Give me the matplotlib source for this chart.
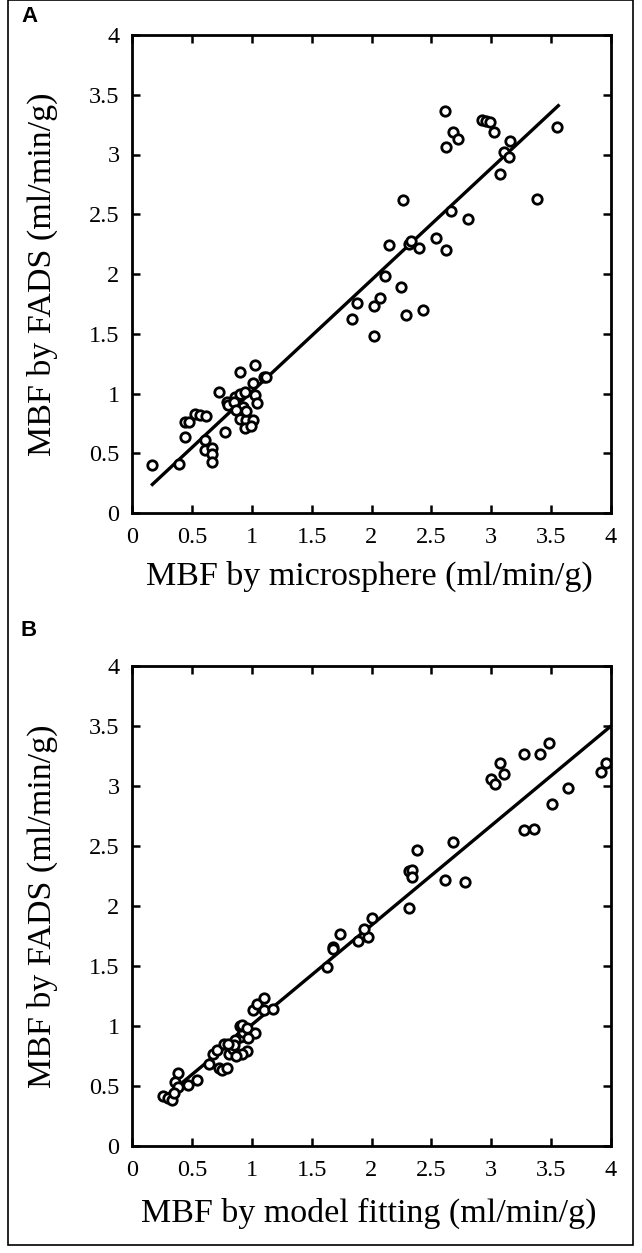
import matplotlib
matplotlib.use("Agg")
import matplotlib.pyplot as plt
import numpy as np
from matplotlib.patches import Rectangle

# ---------------- Data: panel A (microsphere vs FADS) ----------------
a_x = [0.17, 0.39, 0.44, 0.44, 0.48, 0.53, 0.57, 0.62, 0.61, 0.61, 0.67, 0.67, 0.67,
       0.78, 0.73, 0.90, 1.03, 1.01, 1.10, 1.12, 0.79, 0.80, 0.86, 0.90, 0.94, 1.03,
       1.04, 0.93, 0.90, 0.95, 1.01, 0.94, 0.99, 0.85, 0.87, 0.95,
       1.84, 1.88, 2.02, 2.07, 2.02, 2.25, 2.29, 2.43, 2.11, 2.15, 2.31, 2.33, 2.40,
       2.54, 2.62, 2.26, 2.66, 2.81, 3.38,
       2.61, 2.68, 2.72, 2.62, 2.92, 2.96, 2.99, 3.02, 3.16, 3.11, 3.15, 3.07, 3.55]
a_y = [0.40, 0.41, 0.64, 0.76, 0.76, 0.83, 0.82, 0.81, 0.61, 0.53, 0.54, 0.49, 0.43,
       0.68, 1.01, 1.18, 1.24, 1.09, 1.14, 1.14, 0.93, 0.90, 0.97, 1.00, 1.01, 0.99,
       0.92, 0.89, 0.79, 0.78, 0.78, 0.71, 0.73, 0.93, 0.86, 0.85,
       1.62, 1.76, 1.73, 1.80, 1.48, 1.89, 1.66, 1.70, 1.98, 2.24, 2.25, 2.28, 2.22,
       2.30, 2.20, 2.62, 2.53, 2.46, 2.63,
       3.36, 3.19, 3.13, 3.06, 3.29, 3.28, 3.27, 3.19, 3.11, 3.02, 2.98, 2.84, 3.23]
a_line_x = [0.17, 3.56]
a_slope, a_intercept = 0.935, 0.08

# ---------------- Data: panel B (model fitting vs FADS) ----------------
b_x = [0.26, 0.30, 0.33, 0.38, 0.36, 0.38, 0.35, 0.47, 0.54, 0.64, 0.68, 0.71, 0.73,
       0.75, 0.79, 0.77, 0.81, 0.84, 0.90, 0.93, 0.96, 0.92, 0.90, 0.92, 0.96, 1.03,
       1.01, 1.04, 1.10, 1.10, 1.18, 0.86, 0.85, 0.87, 0.97, 0.80,
       1.63, 1.68, 1.68, 1.74, 1.89, 1.97, 1.94, 2.00, 2.31,
       2.31, 2.34, 2.34, 2.38, 2.61, 2.78, 2.68,
       3.27, 3.36, 3.51, 3.64, 3.00, 3.03, 3.07, 3.11, 3.27, 3.41, 3.48, 3.92, 3.96]
b_y = [0.42, 0.40, 0.38, 0.61, 0.53, 0.49, 0.44, 0.51, 0.55, 0.68, 0.77, 0.80, 0.65,
       0.63, 0.65, 0.85, 0.77, 0.81, 0.91, 0.95, 0.79, 0.77, 1.00, 1.01, 0.98, 0.94,
       1.13, 1.18, 1.23, 1.13, 1.14, 0.88, 0.84, 0.75, 0.90, 0.85,
       1.49, 1.66, 1.64, 1.77, 1.71, 1.74, 1.81, 1.90, 1.98,
       2.29, 2.30, 2.24, 2.47, 2.22, 2.20, 2.53,
       2.63, 2.64, 2.85, 2.98, 3.06, 3.02, 3.19, 3.10, 3.27, 3.27, 3.36, 3.12, 3.19]
b_line_x = [0.28, 3.99]
b_slope, b_intercept = 0.83, 0.18

ticks = [0, 0.5, 1, 1.5, 2, 2.5, 3, 3.5, 4]
tick_labels = ["0", "0.5", "1", "1.5", "2", "2.5", "3", "3.5", "4"]
ylabel = "MBF by FADS (ml/min/g)"
xlabel_a = "MBF by microsphere (ml/min/g)"
xlabel_b = "MBF by model fitting (ml/min/g)"

W, H = 642, 1253
fig = plt.figure(figsize=(W / 100, H / 100), dpi=100)
serif = ["Liberation Serif", "DejaVu Serif"]
TICK_FS = 17.5
LABEL_FS = 24.5


def fx(px):
    return px / W


def fy(py):
    return 1 - py / H


def make_axes(top_px, bottom_px):
    ax = fig.add_axes([fx(132), fy(bottom_px), (611 - 132) / W, (bottom_px - top_px) / H])
    return ax


def style(ax):
    ax.set_xlim(0, 4)
    ax.set_ylim(0, 4)
    ax.set_xticks(ticks)
    ax.set_yticks(ticks)
    ax.set_xticklabels(tick_labels, family=serif, fontsize=TICK_FS)
    ax.set_yticklabels(tick_labels, family=serif, fontsize=TICK_FS)
    ax.tick_params(direction="in", length=6, width=1.8, top=True, right=True,
                   labeltop=False, labelright=False)
    ax.tick_params(axis="x", pad=10)
    ax.tick_params(axis="y", pad=9)
    for s in ax.spines.values():
        s.set_linewidth(2)


def draw(ax, x, y, lx, slope, intercept):
    ax.plot(x, y, linestyle="none", marker="o", markersize=6.8,
            markerfacecolor="white", markeredgecolor="black", markeredgewidth=2.0, zorder=3)
    lx = np.array(lx)
    ax.plot(lx, slope * lx + intercept, color="black", linewidth=2.4, zorder=2)


axA = make_axes(35, 513)
draw(axA, a_x, a_y, a_line_x, a_slope, a_intercept)
style(axA)

axB = make_axes(666, 1146)
draw(axB, b_x, b_y, b_line_x, b_slope, b_intercept)
style(axB)

fig.text(fx(42), fy(274), ylabel, rotation=90, ha="center", va="center",
         family=serif, fontsize=LABEL_FS)
fig.text(fx(42), fy(906), ylabel, rotation=90, ha="center", va="center",
         family=serif, fontsize=LABEL_FS)
fig.text(fx(369), fy(576), xlabel_a, ha="center", va="center", family=serif, fontsize=LABEL_FS)
fig.text(fx(369), fy(1213), xlabel_b, ha="center", va="center", family=serif, fontsize=LABEL_FS)

fig.text(fx(21), fy(17), "A", ha="left", va="center", family=["Liberation Sans"],
         fontweight="bold", fontsize=16)
fig.text(fx(21), fy(630), "B", ha="left", va="center", family=["Liberation Sans"],
         fontweight="bold", fontsize=16)

fig.patches.append(Rectangle((fx(8), fy(1245)), fx(633) - fx(8), fy(0) - fy(1245),
                             transform=fig.transFigure, fill=False,
                             edgecolor="black", linewidth=1.2))

fig.savefig("out.png", dpi=100)
